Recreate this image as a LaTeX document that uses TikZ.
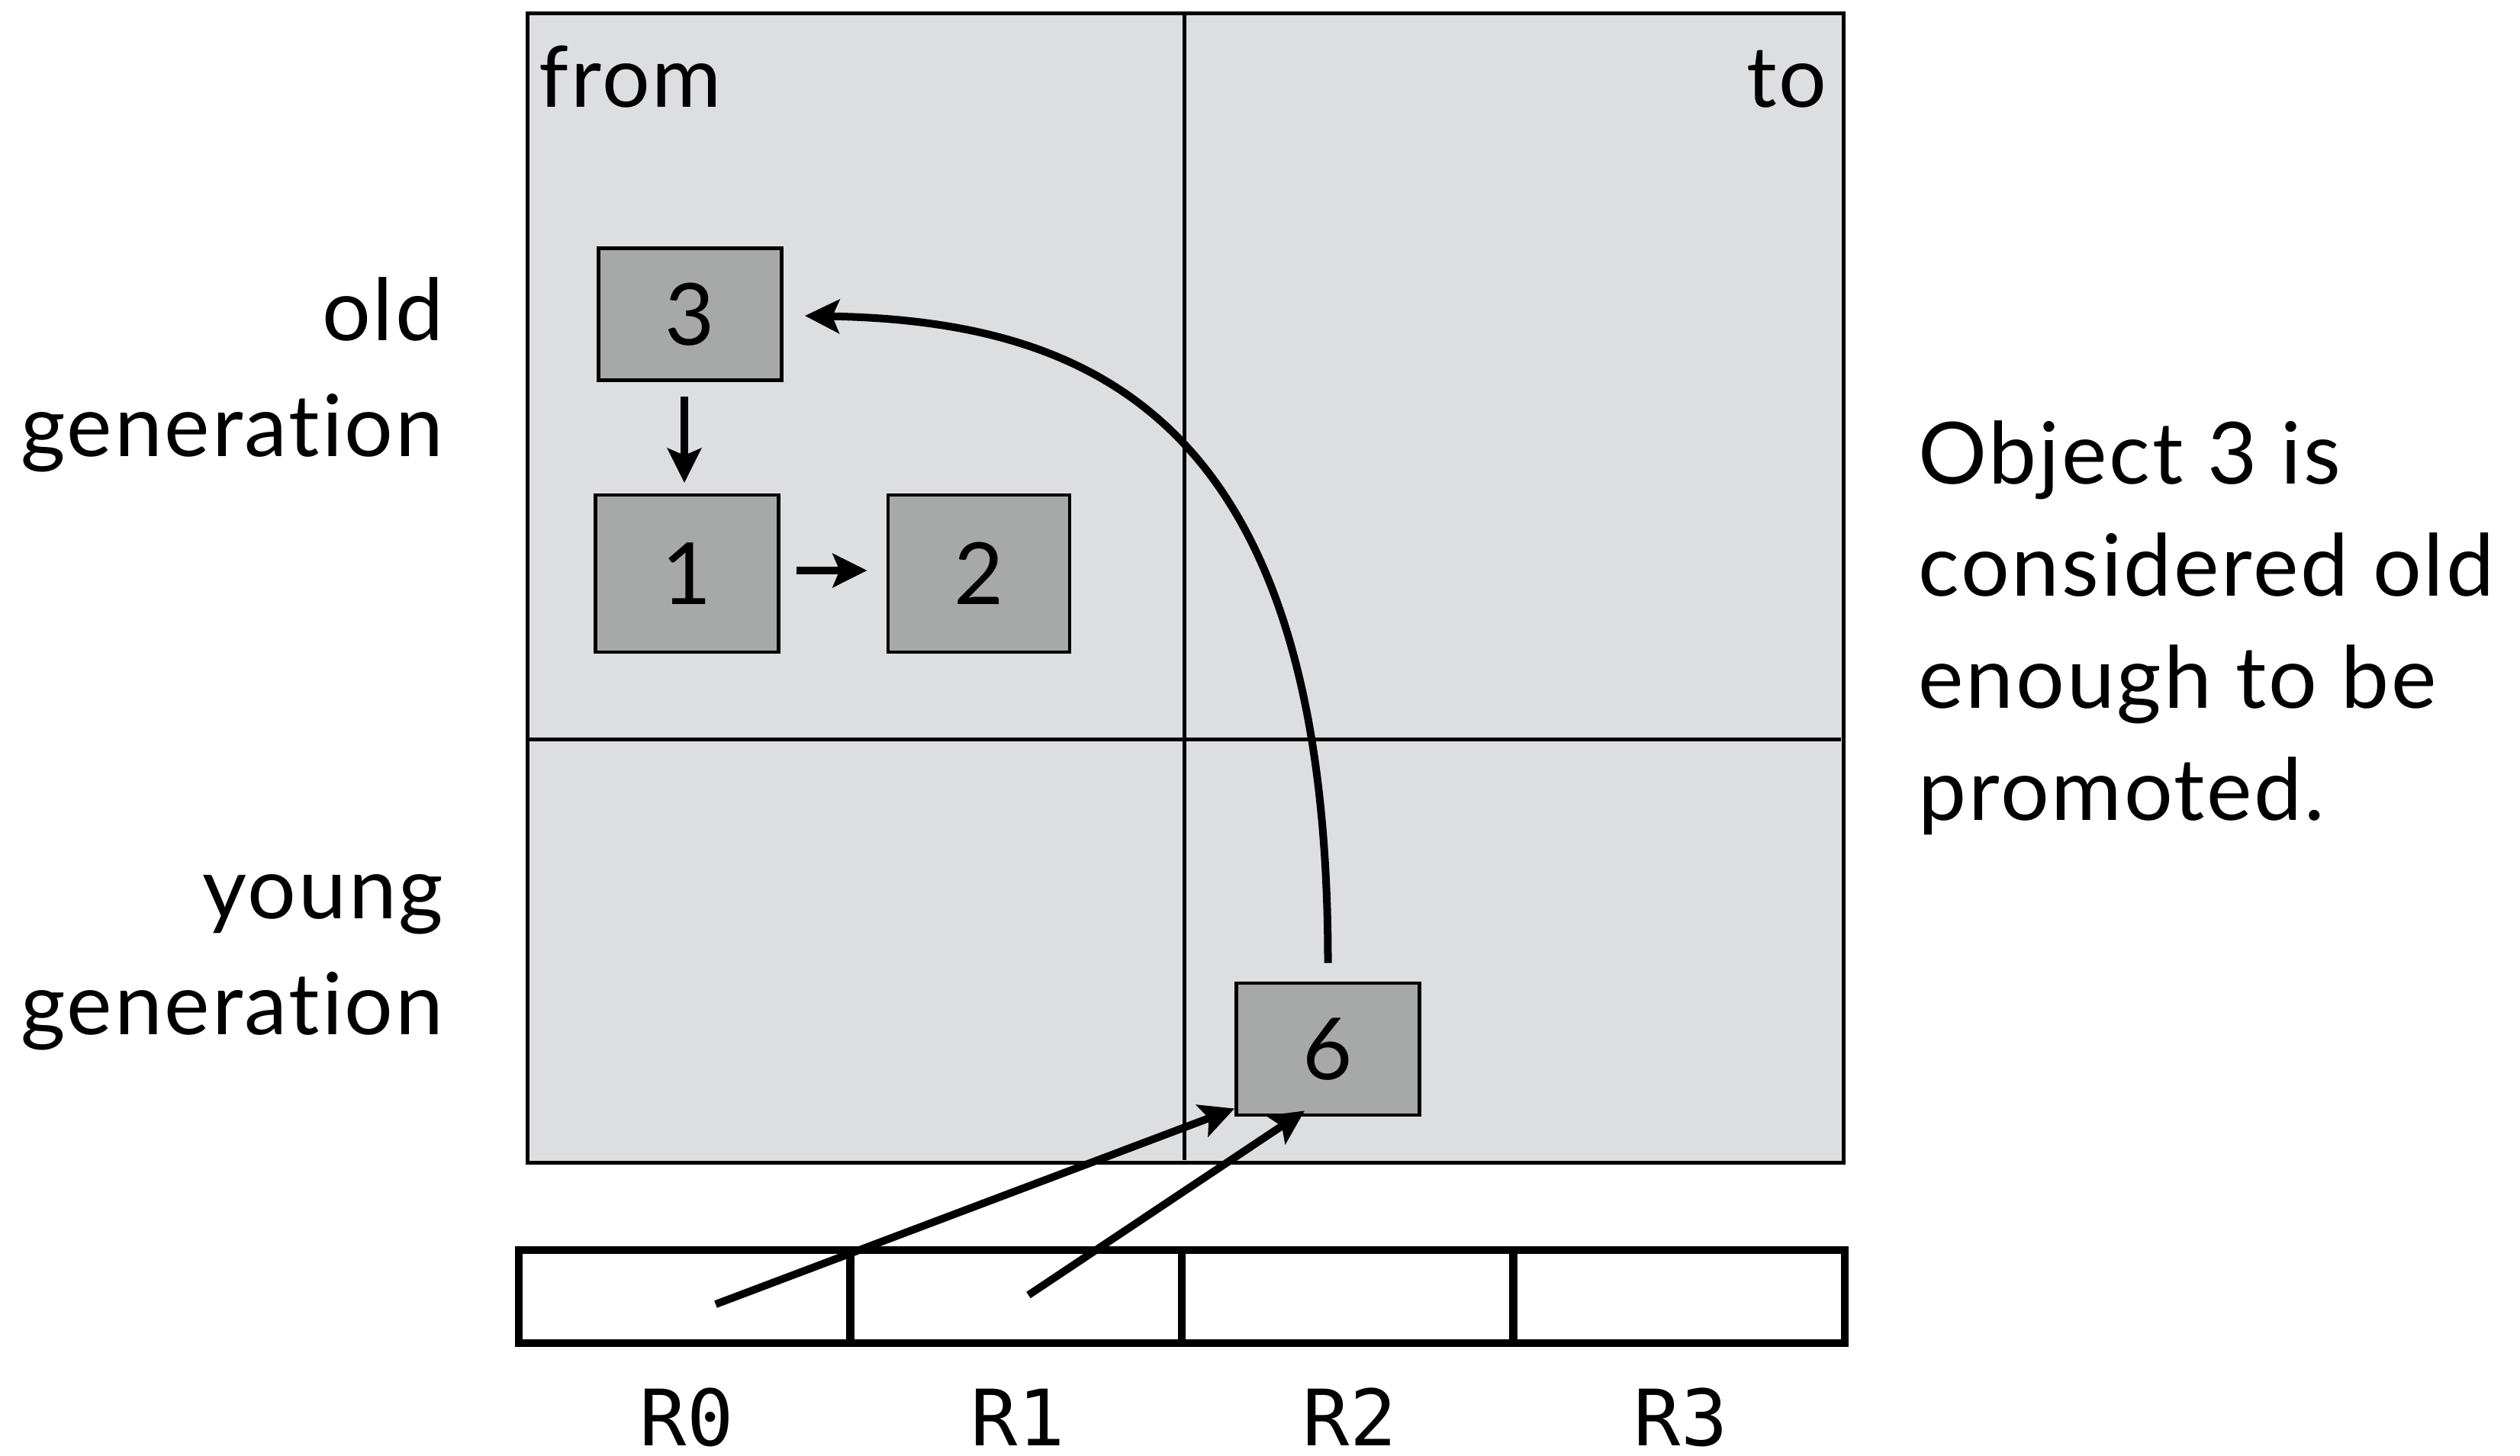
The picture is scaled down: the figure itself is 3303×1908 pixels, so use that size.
\documentclass[tikz,border=0pt]{standalone}
\usepackage{fontspec}
\setmainfont{Lato}[LetterSpace=2.5, Ligatures=NoCommon]
\newfontfamily\regfont{DejaVu Sans Mono}
\usetikzlibrary{arrows.meta}
\definecolor{panelgray}{HTML}{DDDEE0}
\definecolor{objgray}{HTML}{A6A9A8}
\tikzset{
  objbox/.style={draw=black, line width=0.047cm, fill=objgray, minimum width=2.40cm, minimum height=1.73cm, inner sep=0pt, font=\fontsize{32}{38}\selectfont},
  regcell/.style={draw=black, line width=0.105cm, minimum width=4.345cm, minimum height=1.22cm, inner sep=0pt},
  reglabel/.style={font=\regfont\fontsize{29}{35}\selectfont, anchor=base, inner sep=0pt, text depth=0pt},
  sidelabel/.style={font=\fontsize{32}{43}\selectfont, align=right, anchor=base east, inner sep=0pt},
  arr/.style={line width=0.1cm, -{Stealth[length=0.45cm, width=0.44cm, inset=0.09cm]}},
}
\begin{document}
\begin{tikzpicture}[x=0.01cm, y=-0.01cm]
\useasboundingbox (0,0) rectangle (3303,1908);
% panel
\node[draw=black, line width=0.05cm, fill=panelgray, minimum width=17.24cm, minimum height=15.06cm, inner sep=0pt, anchor=north west] (panel) at (689,15) {};
\draw[line width=0.05cm] (1552,15) coordinate (vt) -- (1552,1521) coordinate (vb);
\draw[line width=0.05cm] (689,969) coordinate (hl) -- (2413,969) coordinate (hr);
\node[font=\fontsize{31.5}{38}\selectfont, anchor=base west, inner sep=0pt] (from) at (706,140) {from};
\node[font=\fontsize{31.5}{38}\selectfont, anchor=base east, inner sep=0pt] (to) at (2395,140) {to};
% objects
\node[objbox] (b3) at (904.5,412) {3};
\node[objbox, minimum height=2.06cm] (b1) at (900.5,752) {1};
\node[objbox, minimum width=2.38cm, minimum height=2.06cm] (b2) at (1283,752) {2};
\node[objbox] (b6) at (1740.5,1375.5) {6};
% side labels
\node[sidelabel] (old) at (582,598) {old\\generation};
\node[sidelabel] (young) at (582,1356) {young\\generation};
\node[font=\fontsize{32}{41.8}\selectfont, align=left, anchor=base west, inner sep=0pt] (note) at (2514,1075) {Object 3 is\\considered old\\enough to be\\promoted.};
% registers
\node[regcell] (r0) at (897.25,1700) {};
\node[regcell] (r1) at (1331.75,1700) {};
\node[regcell] (r2) at (1766.25,1700) {};
\node[regcell] (r3) at (2200.75,1700) {};
\node[reglabel] (l0) at (900,1895) {R0};
\node[reglabel] (l1) at (1334,1895) {R1};
\node[reglabel] (l2) at (1769,1895) {R2};
\node[reglabel] (l3) at (2203,1895) {R3};
\coordinate (p0) at (938,1710);
\coordinate (p1) at (1348,1698);
% arrows
\draw[arr] (897,520) coordinate (a3) -- (897,633) coordinate (a1);
\draw[arr] ([xshift=0.21cm,yshift=0.04cm]b1.east) -- ([xshift=-0.25cm,yshift=0.04cm]b2.west);
\draw[arr] ([yshift=0.24cm]b6.north) .. controls (1741,548) and (1432,421) .. ([xshift=0.28cm,yshift=-0.02cm]b3.east);
\draw[arr] (p0) -- ([xshift=0cm,yshift=0.11cm]b6.south west);
\draw[arr] (p1) -- ([xshift=-0.305cm,yshift=0.08cm]b6.south);
\end{tikzpicture}
\end{document}
